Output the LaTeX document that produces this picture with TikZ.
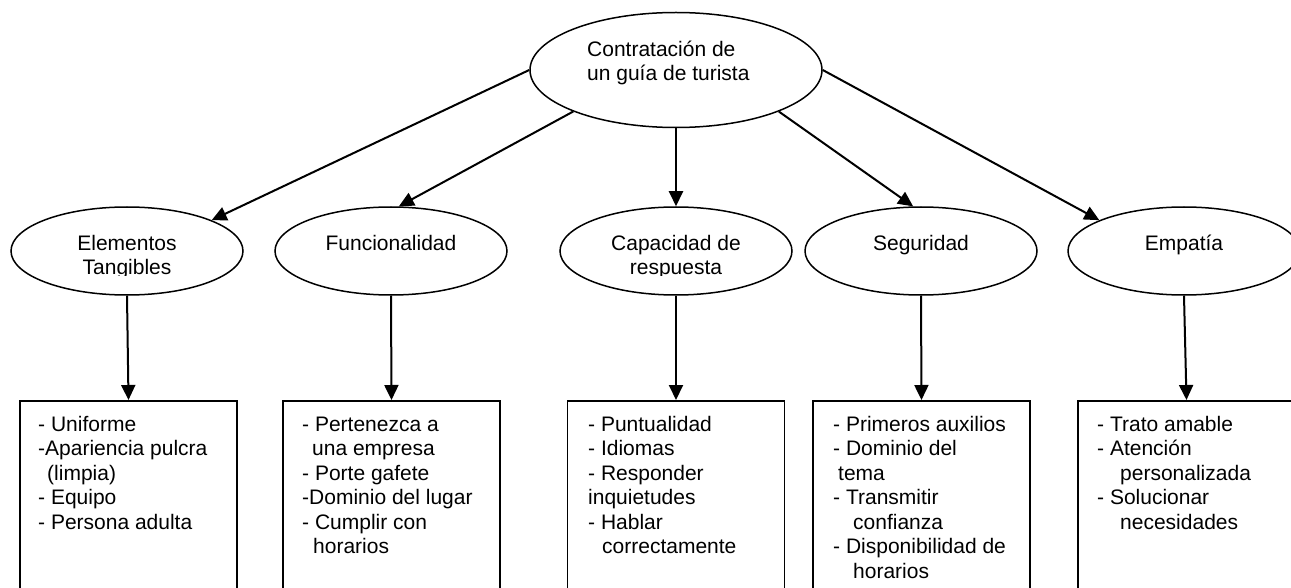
\documentclass[tikz,border=0pt]{standalone}
\usepackage{fontspec}
\setmainfont{Liberation Sans}
\usetikzlibrary{shapes.geometric,arrows.meta}
\begin{document}
\begin{tikzpicture}[x=1pt,y=-1pt,
  oval/.style={draw, ellipse, line width=1.5pt, minimum width=232pt, minimum height=88pt, inner sep=0pt},
  topoval/.style={oval, minimum width=292pt, minimum height=115pt},
  listbox/.style={draw, rectangle, line width=1.5pt, minimum width=217pt, minimum height=230pt, inner sep=0pt, anchor=north},
  lbl/.style={inner sep=0pt, font=\fontsize{21}{24.5}\selectfont},
  conn/.style={line width=2pt, -{Triangle[length=15pt,width=14pt]}},
]
\useasboundingbox (0,0) rectangle (1291,588);
\clip (0,0) rectangle (1291,588);

% ellipses
\node[topoval] (top) at (676,70) {};
\node[oval] (e1) at (127,251) {};
\node[oval] (e2) at (391,251) {};
\node[oval] (e3) at (676,251) {};
\node[oval] (e4) at (921,251) {};
\node[oval] (e5) at (1184,251) {};

% texts in ellipses
\node[lbl, anchor=north west, align=left] (ttop) at (587,36) {\rule{0pt}{20pt}Contratación de\\un guía de turista};
\begin{scope}
\clip (0,0) rectangle (1291,276);
\node[lbl, anchor=north, align=center] (t1) at (127,230) {\rule{0pt}{20pt}Elementos\\Tangibles};
\node[lbl, anchor=north, align=center] (t2) at (391,230) {\rule{0pt}{20pt}Funcionalidad};
\node[lbl, anchor=north, align=center] (t3) at (676,230) {\rule{0pt}{20pt}Capacidad de\\respuesta};
\node[lbl, anchor=north, align=center] (t4) at (921,230) {\rule{0pt}{20pt}Seguridad};
\node[lbl, anchor=north, align=center] (t5) at (1184,230) {\rule{0pt}{20pt}Empatía};
\end{scope}

% boxes
\node[listbox] (b1) at (128.5,400) {};
\node[listbox] (b2) at (391.5,400) {};
\node[listbox] (b3) at (676,400) {};
\node[listbox] (b4) at (921.5,400) {};
\node[listbox] (b5) at (1186.5,400) {};

% box texts
\node[lbl, anchor=north west, align=left] (l1) at (38,411) {\rule{0pt}{20pt}- Uniforme\\-Apariencia pulcra\\\hspace*{9pt}(limpia)\\- Equipo\\- Persona adulta};
\node[lbl, anchor=north west, align=left] (l2) at (302,411) {\rule{0pt}{20pt}- Pertenezca a\\\hspace*{10pt}una empresa\\- Porte gafete\\-Dominio del lugar\\- Cumplir con\\\hspace*{11pt}horarios};
\node[lbl, anchor=north west, align=left] (l3) at (588,411) {\rule{0pt}{20pt}- Puntualidad\\- Idiomas\\- Responder\\inquietudes\\- Hablar\\\hspace*{14pt}correctamente};
\node[lbl, anchor=north west, align=left] (l4) at (833,411) {\rule{0pt}{20pt}- Primeros auxilios\\- Dominio del\\\hspace*{5pt}tema\\- Transmitir\\\hspace*{20pt}confianza\\- Disponibilidad de\\\hspace*{20pt}horarios};
\node[lbl, anchor=north west, align=left] (l5) at (1097,411) {\rule{0pt}{20pt}- Trato amable\\- Atención\\\hspace*{23pt}personalizada\\- Solucionar\\\hspace*{23pt}necesidades};

% connectors
\draw[conn] (top.west) -- (e1.20);
\draw[conn] (top.202) -- (e2.80);
\draw[conn] (top.south) -- (e3.north);
\draw[conn] (top.338) -- (e4.100);
\draw[conn] (top.east) -- (e5.160);

\draw[conn] (e1.south) -- (b1.north);
\draw[conn] (e2.south) -- (b2.north);
\draw[conn] (e3.south) -- (b3.north);
\draw[conn] (e4.south) -- (b4.north);
\draw[conn] (e5.south) -- (b5.north);
\end{tikzpicture}
\end{document}
